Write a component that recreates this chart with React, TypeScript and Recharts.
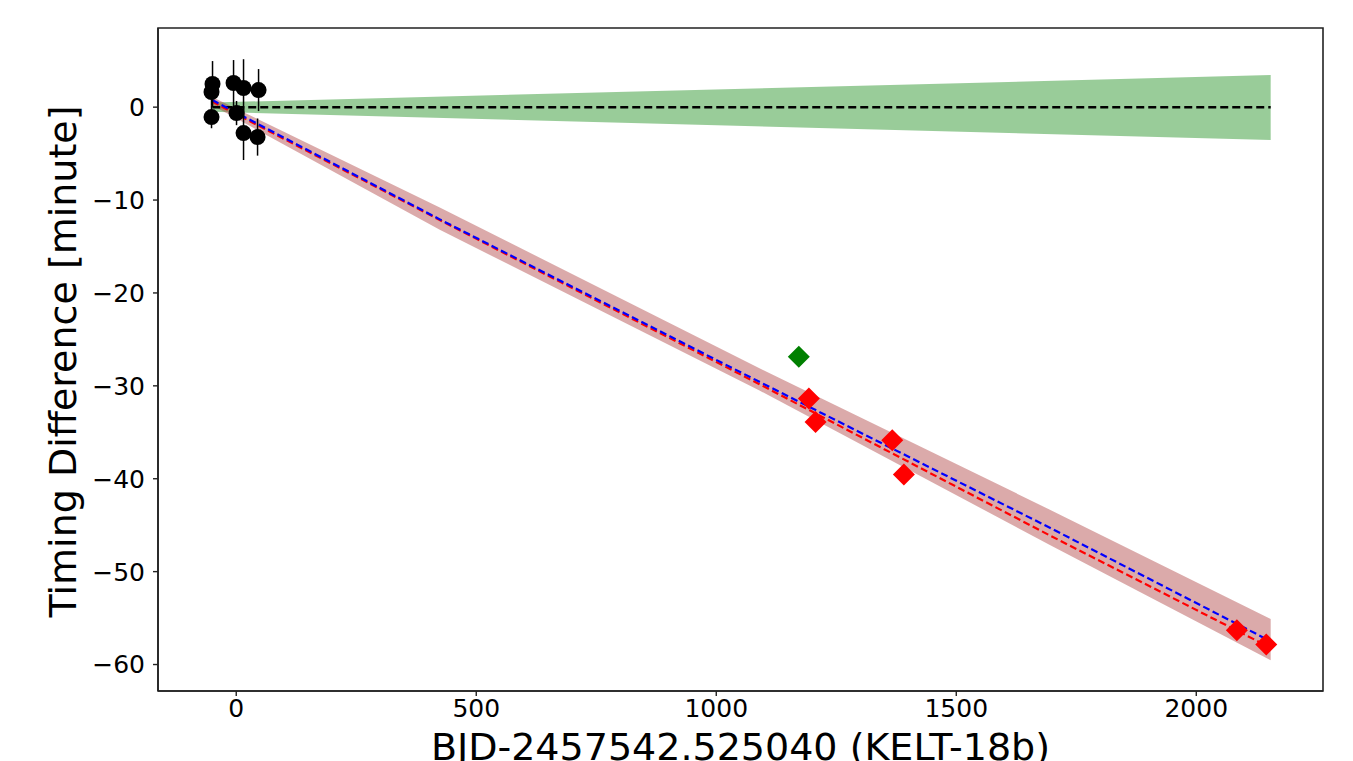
import React from 'react';
import {
  ComposedChart,
  XAxis,
  YAxis,
  Area,
  Line,
  Scatter,
  ErrorBar,
  ReferenceArea,
} from 'recharts';

// ---- data ----
const modelX = [-50, 424, 1090, 1694, 2155];
const blueFit = [0.76, -12.08, -29.57, -45.25, -57.5];
const redFit = [0.6, -12.15, -29.82, -46.08, -58.2];
const redBandLow = [0.2, -13.2, -30.5, -47.1, -59.55];
const redBandHigh = [1.1, -10.8, -28.1, -43.3, -55.1];
const greenBandLow = [-0.5, null, null, null, -3.54];
const greenBandHigh = [0.5, null, null, null, 3.45];
const zeroLine = [0, null, null, null, 0];

const blackX = [-49.4, -51.5, -51.5, -5.6, 0.6, 15.2, 15.2, 46.5, 44.4];
const blackY = [2.49, 1.63, -1.07, 2.6, -0.64, 2.06, -2.79, 1.84, -3.22];
const blackErr = [2.47, 1.5, 1.2, 2.47, 1.3, 3.1, 2.9, 2.26, 2.0];

const redX = [1193, 1206.9, 1366.7, 1390.8, 2084.6, 2145.8];
const redY = [-31.36, -33.88, -35.85, -39.54, -56.31, -57.85];

const greenX = [1172];
const greenY = [-26.88];

const xTicks = [0, 500, 1000, 1500, 2000];
const yTicks = [-60, -50, -40, -30, -20, -10, 0];
const xDomain: [number, number] = [-163, 2264];
const yDomain: [number, number] = [-62.85, 8.52];

const xLabel = 'BJD-2457542.525040 (KELT-18b)';
const yLabel = 'Timing Difference [minute]';

// ---- derived tables ----
const modelData = modelX.map((x, i) => ({
  x,
  blue: blueFit[i],
  red: redFit[i],
  redBand: [redBandLow[i], redBandHigh[i]],
  greenBand:
    greenBandLow[i] === null ? null : [greenBandLow[i], greenBandHigh[i]],
  zero: zeroLine[i],
}));
const blackData = blackX.map((x, i) => ({ x, y: blackY[i], err: blackErr[i] }));
const redData = redX.map((x, i) => ({ x, y: redY[i] }));
const greenData = greenX.map((x, i) => ({ x, y: greenY[i] }));

const FONT = '"DejaVu Sans", sans-serif';
const fmt = (v: number) => String(v).replace('-', '\u2212');

const Circle = (p: any) => <circle cx={p.cx} cy={p.cy} r={8} fill="#000" />;
const makeDiamond = (color: string) => (p: any) => {
  const h = 11;
  const { cx, cy } = p;
  return (
    <polygon
      points={`${cx},${cy - h} ${cx + h},${cy} ${cx},${cy + h} ${cx - h},${cy}`}
      fill={color}
    />
  );
};

const XLabel = (props: any) => {
  const vb = props.viewBox || {};
  return (
    <text
      x={vb.x + vb.width / 2}
      y={vb.y + 69}
      textAnchor="middle"
      fontSize={38}
      fontFamily={FONT}
      fill="#000"
    >
      {xLabel}
    </text>
  );
};

const YLabel = (props: any) => {
  const vb = props.viewBox || {};
  const cx = vb.x + 68;
  const cy = vb.y + vb.height / 2 + 2;
  return (
    <text
      x={cx}
      y={cy}
      transform={`rotate(-90, ${cx}, ${cy})`}
      textAnchor="middle"
      fontSize={38}
      fontFamily={FONT}
      fill="#000"
    >
      {yLabel}
    </text>
  );
};

export default function App() {
  return (
    <ComposedChart
      width={1345}
      height={761}
      data={modelData}
      margin={{ top: 20, right: 30, bottom: 0, left: 0 }}
      style={{ fontFamily: FONT }}
    >
      <XAxis
        dataKey="x"
        type="number"
        domain={xDomain}
        ticks={xTicks}
        allowDataOverflow
        height={78}
        tickSize={5}
        tickMargin={3}
        tickFormatter={fmt}
        tick={{ fill: '#000', fontSize: 25, fontFamily: FONT }}
        axisLine={{ stroke: '#222', strokeWidth: 1.6 }}
        tickLine={{ stroke: '#222', strokeWidth: 1.4 }}
        label={<XLabel />}
      />
      <YAxis
        type="number"
        domain={yDomain}
        ticks={yTicks}
        allowDataOverflow
        width={150}
        tickSize={5}
        tickMargin={8}
        tickFormatter={fmt}
        tick={{ fill: '#000', fontSize: 25, fontFamily: FONT }}
        axisLine={{ stroke: '#222', strokeWidth: 1.6 }}
        tickLine={{ stroke: '#222', strokeWidth: 1.4 }}
        label={<YLabel />}
      />
      <Area
        dataKey="greenBand"
        type="linear"
        fill="#008000"
        fillOpacity={0.4}
        stroke="none"
        connectNulls
        isAnimationActive={false}
        dot={false}
        activeDot={false}
      />
      <Area
        dataKey="redBand"
        type="linear"
        fill="#a52a2a"
        fillOpacity={0.4}
        stroke="none"
        isAnimationActive={false}
        dot={false}
        activeDot={false}
      />
      <Line
        dataKey="zero"
        type="linear"
        stroke="#000"
        strokeWidth={2.5}
        strokeDasharray="8 4"
        dot={false}
        activeDot={false}
        connectNulls
        isAnimationActive={false}
      />
      <Line
        dataKey="red"
        type="linear"
        stroke="#ff0000"
        strokeWidth={2.2}
        strokeDasharray="7 3.5"
        dot={false}
        activeDot={false}
        isAnimationActive={false}
      />
      <Line
        dataKey="blue"
        type="linear"
        stroke="#0000ff"
        strokeWidth={2.2}
        strokeDasharray="7 3.5"
        dot={false}
        activeDot={false}
        isAnimationActive={false}
      />
      <Scatter
        data={blackData}
        dataKey="y"
        shape={Circle}
        isAnimationActive={false}
      >
        <ErrorBar
          dataKey="err"
          direction="y"
          width={0}
          stroke="#000"
          strokeWidth={1.5}
          isAnimationActive={false}
        />
      </Scatter>
      <Scatter
        data={redData}
        dataKey="y"
        shape={makeDiamond('#ff0000')}
        isAnimationActive={false}
      />
      <Scatter
        data={greenData}
        dataKey="y"
        shape={makeDiamond('#008000')}
        isAnimationActive={false}
      />
      <ReferenceArea
        x1={xDomain[0]}
        x2={xDomain[1]}
        y1={yDomain[0]}
        y2={yDomain[1]}
        fill="none"
        fillOpacity={0}
        stroke="#222"
        strokeWidth={1.6}
        ifOverflow="visible"
      />
    </ComposedChart>
  );
}
